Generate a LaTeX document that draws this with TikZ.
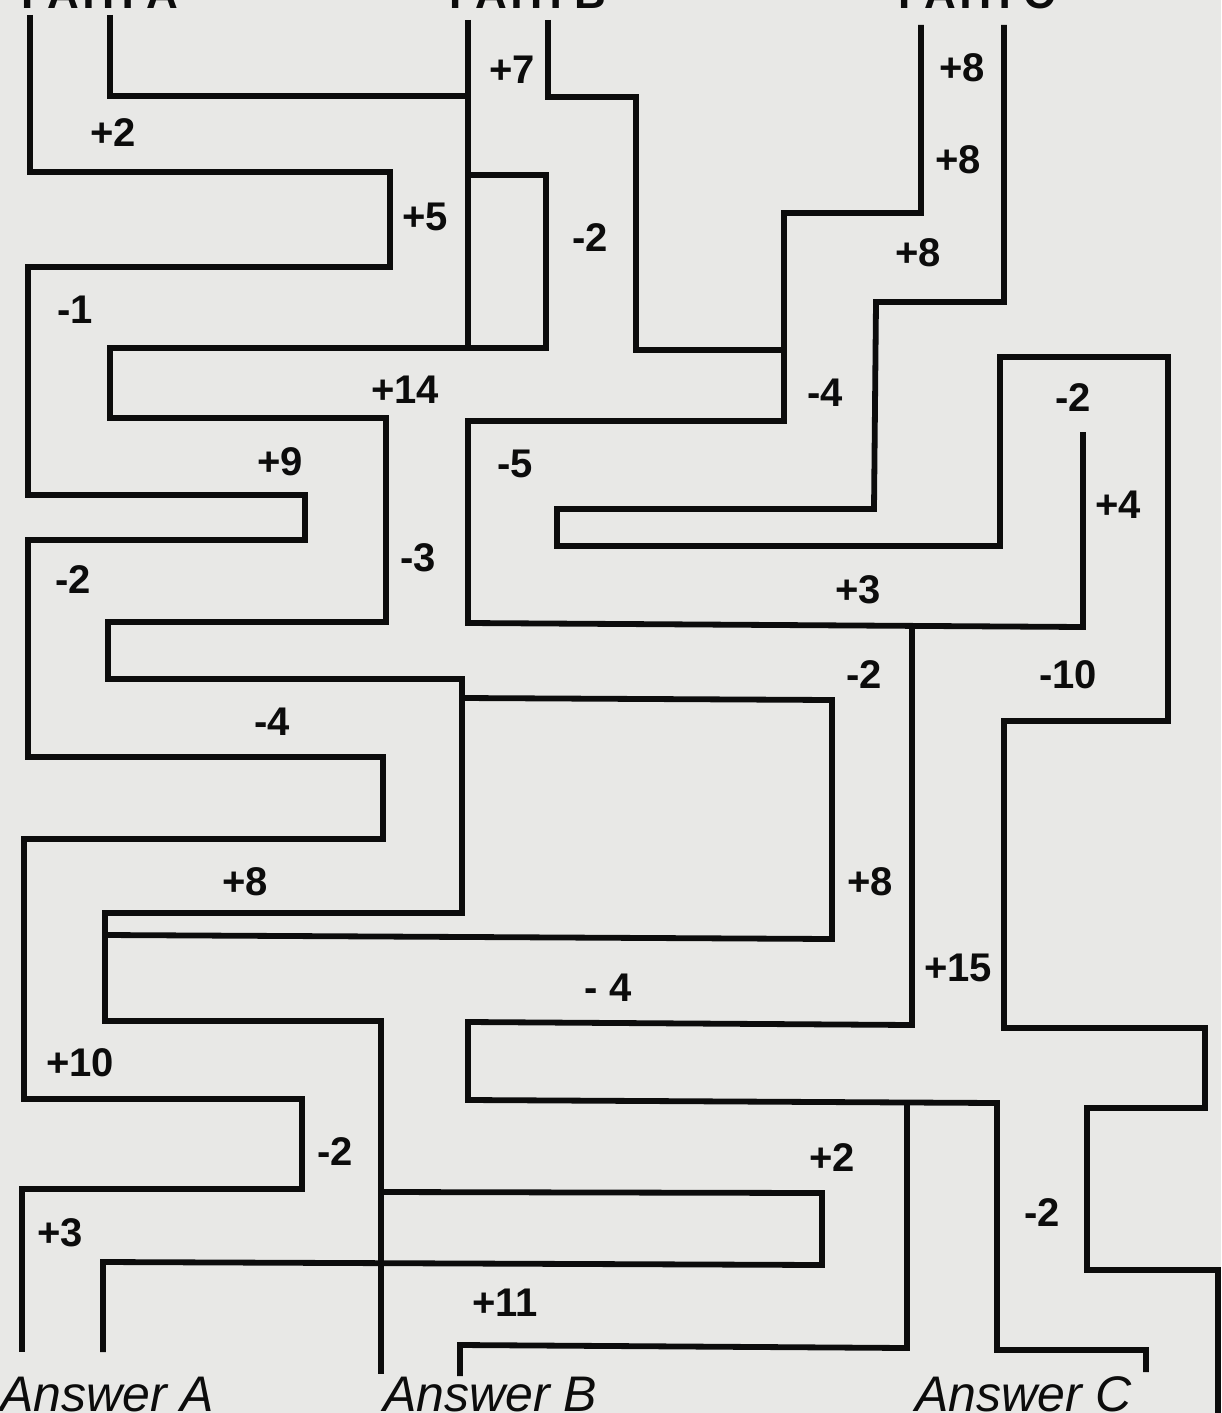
\documentclass[tikz,border=0pt]{standalone}
\usepackage{fontspec}
\setmainfont{Liberation Sans}
\definecolor{paper}{RGB}{232,232,230}
\definecolor{ink}{RGB}{12,12,12}
\begin{document}
\begin{tikzpicture}[x=0.5pt,y=-0.5pt,
  wall/.style={draw=ink, line width=2.9pt, line join=miter},
  num/.style={font=\fontsize{20}{23}\selectfont\bfseries, text=ink, inner sep=0pt},
  ans/.style={font=\fontsize{25}{28}\selectfont\itshape, text=ink, inner sep=0pt, anchor=base west},
  hdr/.style={font=\fontsize{22}{26}\selectfont\bfseries, text=ink, inner sep=0pt, anchor=base}]
\useasboundingbox (0,0) rectangle (1221,1413);
\fill[paper] (0,0) rectangle (1221,1413);
\clip (0,0) rectangle (1221,1413);

% cut-off headings
\node[hdr] (hA) at (100,9) {PATH A};
\node[hdr] (hB) at (528,9) {PATH B};
\node[hdr] (hC) at (977,9) {PATH C};

% left outer wall
\draw[wall] (30,15) -- (30,172) -- (390,172) -- (390,267) -- (28,267) -- (28,495)
  -- (305,495) -- (305,540) -- (28,540) -- (28,757) -- (383,757) -- (383,839)
  -- (24,839) -- (24,1099) -- (302,1099) -- (302,1189) -- (22,1189) -- (22,1352);

% inner left walls
\draw[wall] (110,15) -- (110,96) -- (468,96);
\draw[wall] (468,20) -- (468,348);
\draw[wall] (468,175) -- (546,175) -- (546,348) -- (110,348) -- (110,418) -- (386,418)
  -- (386,622) -- (108,622) -- (108,679) -- (462,679) -- (462,913) -- (105,913)
  -- (105,1021) -- (381,1021) -- (381,1374);
\draw[wall] (462,698) -- (832,700) -- (832,939) -- (105,935);
\draw[wall] (381,1192) -- (822,1193) -- (822,1265) -- (103,1262) -- (103,1352);

% middle walls
\draw[wall] (548,20) -- (548,97) -- (636,97) -- (636,350) -- (784,350);
\draw[wall] (921,25) -- (921,213) -- (784,213) -- (784,421) -- (468,421) -- (468,623)
  -- (1083,627) -- (1083,432);
\draw[wall] (912,627) -- (912,1025) -- (468,1022) -- (468,1100) -- (997,1103)
  -- (997,1350) -- (1146,1350) -- (1146,1372);
\draw[wall] (460,1376) -- (460,1345) -- (907,1348) -- (907,1103);

% right wall
\draw[wall] (1004,25) -- (1004,302) -- (876,302) -- (874,509) -- (557,509) -- (557,546)
  -- (1000,546) -- (1000,357) -- (1168,357) -- (1168,721) -- (1004,721) -- (1004,1028)
  -- (1205,1028) -- (1205,1108) -- (1087,1108) -- (1087,1270) -- (1218,1270) -- (1218,1420);

% numbers
\node[num] (n1) at (512,70) {+7};
\node[num] (n2) at (113,133) {+2};
\node[num] (n3) at (425,217) {+5};
\node[num] (n4) at (590,238) {-2};
\node[num] (n5) at (75,310) {-1};
\node[num] (n6) at (405,390) {+14};
\node[num] (n7) at (280,462) {+9};
\node[num] (n8) at (515,464) {-5};
\node[num] (n9) at (73,580) {-2};
\node[num] (n10) at (418,558) {-3};
\node[num] (n11) at (272,722) {-4};
\node[num] (n12) at (962,68) {+8};
\node[num] (n13) at (958,160) {+8};
\node[num] (n14) at (918,253) {+8};
\node[num] (n15) at (825,393) {-4};
\node[num] (n16) at (1073,398) {-2};
\node[num] (n17) at (1118,505) {+4};
\node[num] (n18) at (858,590) {+3};
\node[num] (n19) at (864,675) {-2};
\node[num] (n20) at (1068,675) {-10};
\node[num] (n21) at (245,882) {+8};
\node[num] (n22) at (870,882) {+8};
\node[num] (n23) at (608,988) {- 4};
\node[num] (n24) at (958,968) {+15};
\node[num] (n25) at (80,1063) {+10};
\node[num] (n26) at (335,1152) {-2};
\node[num] (n27) at (832,1158) {+2};
\node[num] (n28) at (60,1233) {+3};
\node[num] (n29) at (1042,1213) {-2};
\node[num] (n30) at (505,1303) {+11};

% answers
\node[ans] (aA) at (0,1411) {Answer A};
\node[ans] (aB) at (383,1411) {Answer B};
\node[ans] (aC) at (915,1411) {Answer C};
\end{tikzpicture}
\end{document}
